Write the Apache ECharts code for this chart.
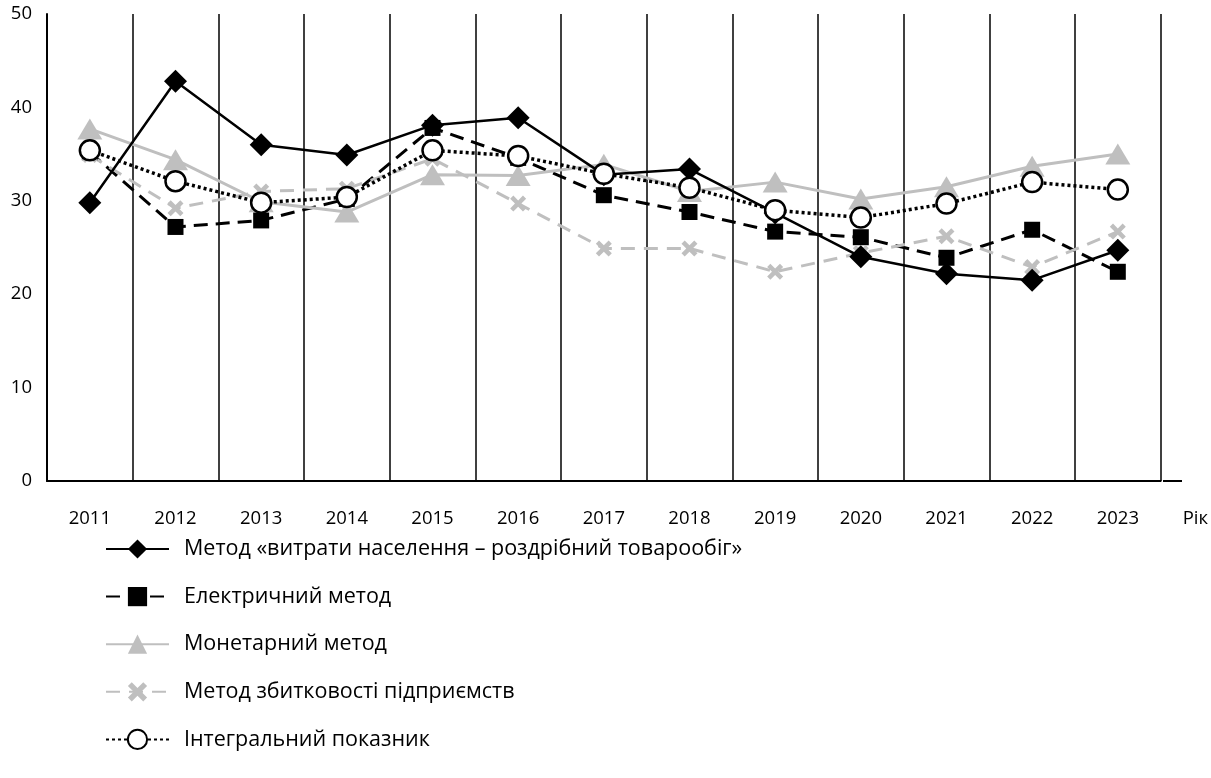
<!DOCTYPE html>
<html>
<head>
<meta charset="utf-8">
<script src="https://cdn.jsdelivr.net/npm/echarts@6/dist/echarts.min.js"></script>
<style>
html,body{margin:0;padding:0;background:#fff;}
#chart{width:1211px;height:778px;}
</style>
</head>
<body>
<div id="chart"></div>
<script>
const years = ['2011','2012','2013','2014','2015','2016','2017','2018','2019','2020','2021','2022','2023'];
const seriesNames = [
  'Метод «витрати населення – роздрібний товарообіг»',
  'Електричний метод',
  'Монетарний метод',
  'Метод збитковості підприємств',
  'Інтегральний показник'
];
const expenditureMethod = [29.8, 42.8, 36.0, 34.9, 38.1, 38.9, 32.8, 33.4, 28.7, 24.0, 22.2, 21.5, 24.7];
const electricMethod    = [35.2, 27.2, 27.9, 30.2, 37.8, 34.6, 30.6, 28.8, 26.7, 26.1, 23.9, 26.9, 22.4];
const monetaryMethod    = [37.7, 34.4, 29.9, 28.8, 32.8, 32.7, 33.9, 31.0, 32.0, 30.2, 31.5, 33.7, 35.0];
const lossMethod        = [34.9, 29.2, 31.0, 31.3, 34.5, 29.7, 24.9, 24.9, 22.4, 24.4, 26.2, 22.9, 26.7];
const integralIndex     = [35.4, 32.1, 29.8, 30.4, 35.4, 34.8, 32.9, 31.4, 29.0, 28.2, 29.7, 32.0, 31.2];
const yTicks = {min: 0, max: 50, interval: 10};
const xAxisName = 'Рік';

const FONT = 'Open Sans';
const GRAY = '#bfbfbf';
const crossPath = 'path://M0,2 L2,0 L5,3 L8,0 L10,2 L7,5 L10,8 L8,10 L5,7 L2,10 L0,8 L3,5 Z';

const chart = echarts.init(document.getElementById('chart'), null, {renderer: 'canvas'});
const option = {
  animation: false,
  backgroundColor: '#fff',
  grid: {left: 47, right: 48, top: 14, bottom: 297, containLabel: false},
  xAxis: {
    type: 'category',
    data: years,
    boundaryGap: true,
    name: xAxisName,
    nameLocation: 'end',
    nameGap: 22,
    nameTextStyle: {fontFamily: FONT, fontSize: 18.5, color: '#000', verticalAlign: 'top', padding: [28, 0, 0, 0]},
    axisLine: {show: true, lineStyle: {color: '#000', width: 2}},
    axisTick: {show: false},
    axisLabel: {fontFamily: FONT, fontSize: 18.5, color: '#000', margin: 28, interval: 0},
    splitLine: {show: true, interval: 0, lineStyle: {color: '#000', width: 1.5}}
  },
  yAxis: {
    type: 'value',
    min: yTicks.min, max: yTicks.max, interval: yTicks.interval,
    axisLine: {show: true, lineStyle: {color: '#000', width: 2}},
    axisTick: {show: false},
    axisLabel: {fontFamily: FONT, fontSize: 18.5, color: '#000', margin: 15},
    splitLine: {show: false}
  },
  legend: {
    orient: 'vertical',
    left: 100,
    top: 533,
    itemWidth: 63,
    itemHeight: 24,
    itemGap: 25.6,
    textStyle: {fontFamily: FONT, fontSize: 21.5, color: '#000', padding: [0, 0, 0, 10]},
    data: seriesNames
  },
  graphic: [{
    type: 'line', shape: {x1: 1163, y1: 481, x2: 1182, y2: 481},
    style: {stroke: '#000', lineWidth: 2}
  }],
  series: [
    {
      name: seriesNames[0], type: 'line', data: expenditureMethod,
      symbol: 'diamond', symbolSize: 23, z: 3,
      lineStyle: {color: '#000', width: 2.5, type: 'solid'},
      itemStyle: {color: '#000'}
    },
    {
      name: seriesNames[1], type: 'line', data: electricMethod,
      symbol: 'rect', symbolSize: 16, z: 2,
      lineStyle: {color: '#000', width: 3, type: [14, 8]},
      itemStyle: {color: '#000'}
    },
    {
      name: seriesNames[2], type: 'line', data: monetaryMethod,
      symbol: 'triangle', symbolSize: [25, 21], z: 2,
      lineStyle: {color: GRAY, width: 3, type: 'solid'},
      itemStyle: {color: GRAY}
    },
    {
      name: seriesNames[3], type: 'line', data: lossMethod,
      symbol: crossPath, symbolSize: 16, z: 2,
      lineStyle: {color: GRAY, width: 3, type: [14, 9]},
      itemStyle: {color: GRAY}
    },
    {
      name: seriesNames[4], type: 'line', data: integralIndex,
      symbol: 'circle', symbolSize: 20, z: 4,
      lineStyle: {color: '#000', width: 3.5, type: [3, 3]},
      itemStyle: {color: '#fff', borderColor: '#000', borderWidth: 2.5}
    }
  ]
};
chart.setOption(option);
</script>
</body>
</html>
